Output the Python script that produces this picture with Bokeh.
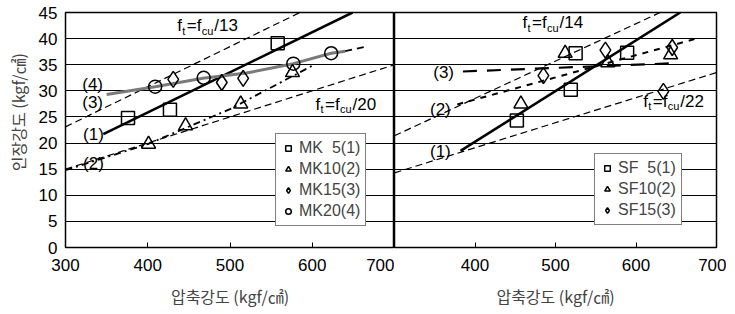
from bokeh.plotting import figure
from bokeh.layouts import row
from bokeh.models import ColumnDataSource, FixedTicker, Legend, LegendItem, Range1d
from bokeh.embed import file_html
from bokeh.resources import INLINE
from bokeh.core.properties import value

# ---------------- data: left panel (MK) ----------------
mk5_x = [376, 427, 558]
mk5_y = [24.8, 26.4, 39.1]
mk10_x = [401, 446, 513, 576]
mk10_y = [19.8, 23.3, 27.5, 33.5]
mk15_x = [431, 490, 516]
mk15_y = [32.2, 31.6, 32.4]
mk20_x = [409, 468, 577, 623]
mk20_y = [30.8, 32.5, 35.2, 37.2]

# fitted / reference lines, left
mk_fit1_x = [346, 649]
mk_fit1_y = [21.7, 45.0]
mk_fit2_x = [300, 400, 500, 600]
mk_fit2_y = [14.8, 19.8, 26.5, 34.8]
mk_fit34_x = [350, 409, 467, 520, 577, 623, 640]
mk_fit34_y = [29.3, 30.8, 32.4, 33.4, 35.2, 37.2, 37.6]
mk_fit34_ext_x = [640, 664]
mk_fit34_ext_y = [37.6, 38.4]
ref13_x = [300, 585]
ref13_y = [23.1, 45.0]
ref20_x = [300, 700]
ref20_y = [15.0, 35.0]

# ---------------- data: right panel (SF) ----------------
sf5_x = [452, 519, 525, 589]
sf5_y = [24.3, 30.2, 37.2, 37.3]
sf10_x = [457, 512, 565, 643]
sf10_y = [27.5, 37.2, 35.4, 36.9]
sf15_x = [485, 562, 634, 645]
sf15_y = [32.9, 37.8, 29.9, 38.3]

sf_fit1_x = [382, 655]
sf_fit1_y = [18.5, 45.0]
sf_fit2_x = [378, 675]
sf_fit2_y = [27.4, 40.0]
sf_fit3_x = [385, 650]
sf_fit3_y = [33.7, 35.3]
ref14_x = [300, 630]
ref14_y = [21.4, 45.0]
ref22_x = [300, 700]
ref22_y = [14.3, 33.5]

y_ticks = [0, 5, 10, 15, 20, 25, 30, 35, 40, 45]
grid_ticks = [5, 10, 15, 20, 25, 30, 35, 40]
left_xticks = [300, 400, 500, 600, 700]
right_xticks = [400, 500, 600, 700]

FONT = "Liberation Sans"
KFONT = "Noto Sans CJK KR"


def base(width, xticks, show_y, border_left, border_right):
    p = figure(width=width, height=310, x_range=Range1d(300, 700), y_range=Range1d(0, 45),
               output_backend="svg", toolbar_location=None,
               min_border_left=border_left, min_border_right=border_right,
               min_border_top=12, min_border_bottom=60)
    p.background_fill_color = "white"
    p.border_fill_color = "white"
    p.outline_line_color = "black"
    p.outline_line_width = 1.5
    p.xgrid.visible = False
    p.ygrid.ticker = FixedTicker(ticks=grid_ticks)
    p.ygrid.grid_line_color = "black"
    p.ygrid.grid_line_width = 1.2
    p.ygrid.grid_line_alpha = 1
    p.xaxis.ticker = FixedTicker(ticks=xticks)
    p.xaxis.major_tick_in = 5
    p.xaxis.major_tick_out = 0
    p.xaxis.minor_tick_line_color = None
    p.xaxis.axis_line_color = None
    p.xaxis.major_label_text_font = FONT
    p.xaxis.major_label_text_font_size = "17px"
    p.xaxis.major_label_text_color = "black"
    p.xaxis.major_label_standoff = 11
    p.xaxis.axis_label = "압축강도 (kgf/㎠)"
    p.xaxis.axis_label_text_font = KFONT
    p.xaxis.axis_label_text_font_size = "16px"
    p.xaxis.axis_label_text_font_style = "normal"
    p.xaxis.axis_label_standoff = 10
    if show_y:
        p.yaxis.ticker = FixedTicker(ticks=y_ticks)
        p.yaxis.major_tick_in = 0
        p.yaxis.major_tick_out = 0
        p.yaxis.minor_tick_line_color = None
        p.yaxis.axis_line_color = None
        p.yaxis.major_label_text_font = FONT
        p.yaxis.major_label_text_font_size = "17px"
        p.yaxis.major_label_text_color = "black"
        p.yaxis.major_label_standoff = 8
        p.yaxis.axis_label = "\u00a0" * 10 + "인장강도 (kgf/㎠)"
        p.yaxis.axis_label_text_font = KFONT
        p.yaxis.axis_label_text_font_size = "16px"
        p.yaxis.axis_label_text_font_style = "normal"
        p.yaxis.axis_label_standoff = 6
    else:
        p.yaxis.visible = False
    return p


def ft_label(p, x, y, denom):
    parts = ["f", "t", "=f", "cu", "/" + denom]
    offs = [0, 5, 9.5, 24.5, 37]
    yoffs = [0, 5, 0, 5, 0]
    sizes = ["17px", "11px", "17px", "11px", "17px"]
    src = ColumnDataSource(dict(x=[x] * 5, y=[y] * 5, t=parts, xo=offs, yo=yoffs, fs=sizes))
    p.text(x="x", y="y", text="t", x_offset="xo", y_offset="yo", text_font_size="fs",
           text_font=value(FONT), text_baseline="middle", text_align="left",
           text_color="black", source=src)


def curve_labels(p, xs, ys, texts):
    src = ColumnDataSource(dict(x=xs, y=ys, t=texts))
    p.text(x="x", y="y", text="t", source=src, text_font=value(FONT), text_font_size="17px",
           text_align="center", text_baseline="middle", text_color="black")


# ---------------- left figure ----------------
p1 = base(394, left_xticks, True, 65, 0)
p1.line(ref13_x, ref13_y, line_color="black", line_width=1.2, line_dash="7 4")
p1.line(ref20_x, ref20_y, line_color="black", line_width=1.2, line_dash="7 4")
p1.line(mk_fit1_x, mk_fit1_y, line_color="black", line_width=2.6)
p1.line(mk_fit2_x, mk_fit2_y, line_color="black", line_width=1.8, line_dash="7 4 2 4")
p1.line(mk_fit34_x, mk_fit34_y, line_color="#7a7a7a", line_width=3)
p1.line(mk_fit34_ext_x, mk_fit34_ext_y, line_color="black", line_width=1.8, line_dash="7 5")

mk_items = []
r = p1.scatter(mk5_x, mk5_y, marker="square", size=13, line_color="black", line_width=1.5, fill_alpha=0)
mk_items.append(LegendItem(label="MK\u20075(1)", renderers=[r]))
r = p1.scatter(mk10_x, mk10_y, marker="triangle", size=14, line_color="black", line_width=1.5, fill_alpha=0)
mk_items.append(LegendItem(label="MK10(2)", renderers=[r]))
r = p1.scatter(mk15_x, mk15_y, marker="diamond", size=16, line_color="black", line_width=1.5, fill_alpha=0)
mk_items.append(LegendItem(label="MK15(3)", renderers=[r]))
r = p1.scatter(mk20_x, mk20_y, marker="circle", size=13, line_color="black", line_width=1.5, fill_alpha=0)
mk_items.append(LegendItem(label="MK20(4)", renderers=[r]))

ft_label(p1, 436, 42.5, "13")
ft_label(p1, 604, 27.4, "20")
curve_labels(p1, [333, 333, 334, 334], [31.2, 27.8, 21.7, 16.0], ["(4)", "(3)", "(1)", "(2)"])

leg1 = Legend(items=mk_items, location=(210, 21), orientation="vertical",
              background_fill_color="white", background_fill_alpha=1,
              border_line_color="black", border_line_width=1.2,
              label_text_font=FONT, label_text_font_size="16px",
              glyph_width=14, glyph_height=16, label_height=18, spacing=3,
              padding=5, margin=0, label_standoff=4)
p1.add_layout(leg1, "center")

# ---------------- right figure ----------------
p2 = base(332, right_xticks, False, 0, 10)
p2.line(ref14_x, ref14_y, line_color="black", line_width=1.2, line_dash="7 4")
p2.line(ref22_x, ref22_y, line_color="black", line_width=1.2, line_dash="7 4")
p2.line(sf_fit1_x, sf_fit1_y, line_color="black", line_width=2.6)
p2.line(sf_fit2_x, sf_fit2_y, line_color="black", line_width=2, line_dash="6 6")
p2.line(sf_fit3_x, sf_fit3_y, line_color="black", line_width=2.2, line_dash="14 10")

sf_items = []
r = p2.scatter(sf5_x, sf5_y, marker="square", size=13, line_color="black", line_width=1.5, fill_alpha=0)
sf_items.append(LegendItem(label="SF\u20075(1)", renderers=[r]))
r = p2.scatter(sf10_x, sf10_y, marker="triangle", size=14, line_color="black", line_width=1.5, fill_alpha=0)
sf_items.append(LegendItem(label="SF10(2)", renderers=[r]))
r = p2.scatter(sf15_x, sf15_y, marker="diamond", size=16, line_color="black", line_width=1.5, fill_alpha=0)
sf_items.append(LegendItem(label="SF15(3)", renderers=[r]))

ft_label(p2, 459, 43.0, "14")
ft_label(p2, 609, 28.0, "22")
curve_labels(p2, [361, 357, 357], [33.5, 26.5, 18.3], ["(3)", "(2)", "(1)"])

leg2 = Legend(items=sf_items, location=(200, 22), orientation="vertical",
              background_fill_color="white", background_fill_alpha=1,
              border_line_color="black", border_line_width=1.2,
              label_text_font=FONT, label_text_font_size="16px",
              glyph_width=14, glyph_height=16, label_height=18, spacing=3,
              padding=5, margin=0, label_standoff=4)
p2.add_layout(leg2, "center")

layout = row(p1, p2)
open("out.html", "w").write(file_html(layout, INLINE))
